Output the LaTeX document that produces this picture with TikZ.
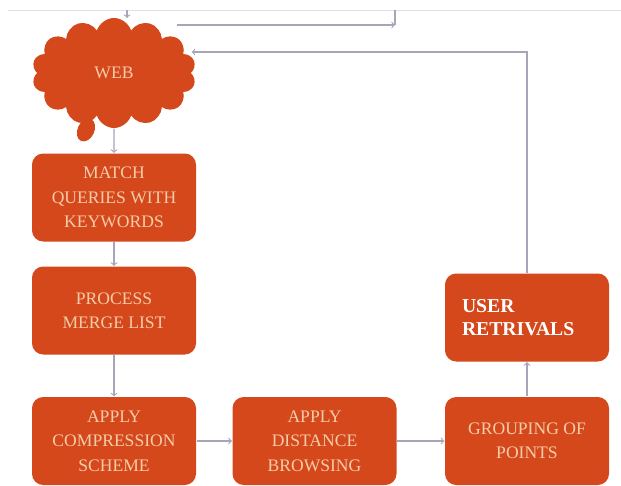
\documentclass[tikz,border=0pt]{standalone}
\usepackage{fontspec}
\setmainfont{Liberation Serif}
\usepackage{xcolor}
\usepackage{tikz}
\usetikzlibrary{shapes.symbols}

\definecolor{boxred}{RGB}{212,72,28}
\definecolor{boxtext}{RGB}{246,204,168}
\definecolor{linegray}{RGB}{168,164,186}

\begin{document}
\begin{tikzpicture}[thick, node distance=1cm,
    box/.style = {fill=boxred, rounded corners=0.28cm, minimum width=4.1cm, minimum height=2.2cm, align=center, text=boxtext, font=\fontsize{12.5}{17.4}\selectfont},
    webcloud/.style = {cloud, cloud puffs=14, cloud puff arc=145, cloud ignores aspect, fill=boxred, minimum width=4.1cm, minimum height=2.75cm, text=boxtext, font=\fontsize{12.5}{17.4}\selectfont},
    link/.style = {draw=linegray, ->}]
    \useasboundingbox (0,0) rectangle (15.525,-12.15);

    \node[webcloud] (1) at (2.85,-1.825) {WEB};
    \fill[boxred] (2.15,-3.25) ellipse [x radius=0.21cm, y radius=0.3cm, rotate=-25];
    \node[box] (2) [below of=1, yshift=-2.1125cm] {MATCH\\QUERIES WITH\\KEYWORDS};
    \node[box] (3) [below of=2, yshift=-1.825cm] {PROCESS\\MERGE LIST};
    \node[box] (4) [below of=3, yshift=-2.2625cm] {APPLY\\COMPRESSION\\SCHEME};
    \node[box] (5) [right of=4, xshift=4.0125cm] {APPLY\\DISTANCE\\BROWSING};
    \node[box] (6) [right of=5, xshift=4.3125cm] {GROUPING OF\\POINTS};
    \node[box, align=left, text width=3.25cm, text=white, font=\bfseries\fontsize{14}{16.5}\selectfont] (7) [above of=6, yshift=2.0875cm] {USER\\RETRIVALS};

    % top edge of the slide
    \draw[draw=black!12, thin] (0.2,-0.25) -- (15.525,-0.25);
    \coordinate (t1) at (3.175,-0.25);
    \coordinate (t2) at (9.875,-0.25);
    \coordinate (t3) at (4.425,-0.625);
    \draw[link] (t1) -- ++(0,-0.2);
    \draw[link] (t3) -- (t3 -| t2);
    \draw[draw=linegray] (t2) -- (t3 -| t2);

    \draw[link] (1.south) -- (2.north);
    \draw[link] (2) -- (3);
    \draw[link] (3) -- (4);
    \draw[link] (4) -- (5);
    \draw[link] (5) -- (6);
    \draw[link] (6) -- (7);
    \draw[link] (7.north) |- ([yshift=0.525cm]1.east);

\end{tikzpicture}
\end{document}
